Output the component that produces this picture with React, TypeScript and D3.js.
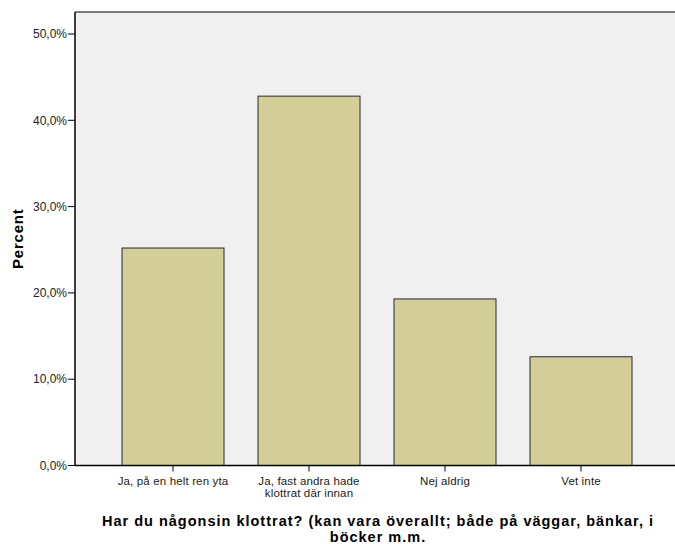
import React from "react";
import * as d3 from "d3";

const categories = ["Ja, på en helt ren yta", "Ja, fast andra hade|klottrat där innan", "Nej aldrig", "Vet inte"];
const values = [25.2, 42.8, 19.3, 12.6];
const yTicks = [0, 10, 20, 30, 40, 50];
const yTitle = "Percent";
const xTitleLines = ["Har du någonsin klottrat? (kan vara överallt; både på väggar, bänkar, i", "böcker m.m."];

export default function App() {
  const W = 675, H = 544;
  const left = 75, top = 12, right = 675, bottom = 465.5;
  const x = d3.scaleBand<string>().domain(categories).range([105, 649]).paddingInner(0.25).paddingOuter(0.125);
  const y = d3.scaleLinear().domain([0, 50]).range([bottom, bottom - 431.5]);
  const fmt = (v: number) => v.toFixed(1).replace(".", ",") + "%";
  return (
    <svg width={W} height={H} style={{ position: "absolute", left: 0, top: 0, fontFamily: "'Liberation Sans', Arial, sans-serif" }}>
      <rect x={0} y={0} width={W} height={H} fill="#fff" />
      <rect x={left} y={top} width={right - left} height={bottom - top} fill="#f0f0f0" />
      <line x1={left} x2={right} y1={top} y2={top} stroke="#000" strokeWidth={1.2} />
      {categories.map((c, i) => (
        <rect key={c} x={x(c)} y={y(values[i])} width={x.bandwidth()} height={bottom - y(values[i])}
          fill="#d3ce97" stroke="#2a2a2a" strokeWidth={1} />
      ))}
      <line x1={left} x2={left} y1={top} y2={bottom} stroke="#000" strokeWidth={1.5} />
      <line x1={left} x2={right} y1={bottom} y2={bottom} stroke="#000" strokeWidth={1.5} />
      {yTicks.map(t => (
        <g key={t}>
          <line x1={left - 7} x2={left} y1={y(t)} y2={y(t)} stroke="#000" strokeWidth={1} />
          <text x={left - 8} y={y(t)} dy="0.35em" textAnchor="end" fontSize={12} fill="#222">{fmt(t)}</text>
        </g>
      ))}
      {categories.map(c => {
        const cx = (x(c) as number) + x.bandwidth() / 2;
        const lines = c.split("|");
        return (
          <g key={c}>
            <line x1={cx} x2={cx} y1={bottom} y2={bottom + 6} stroke="#000" strokeWidth={1} />
            {lines.map((l, j) => (
              <text key={j} x={cx} y={bottom + 19.5 + j * 12} textAnchor="middle" fontSize={11.5} letterSpacing={0.15} fill="#222">{l}</text>
            ))}
          </g>
        );
      })}
      <text transform={`translate(23,${(top + bottom) / 2}) rotate(-90)`} textAnchor="middle" fontSize={15} letterSpacing={0.8} fontWeight="bold" fill="#000">{yTitle}</text>
      {xTitleLines.map((l, j) => (
        <text key={j} x={378} y={525.5 + j * 16} textAnchor="middle" fontSize={14.5} letterSpacing={1} fontWeight="bold" fill="#000">{l}</text>
      ))}
    </svg>
  );
}
